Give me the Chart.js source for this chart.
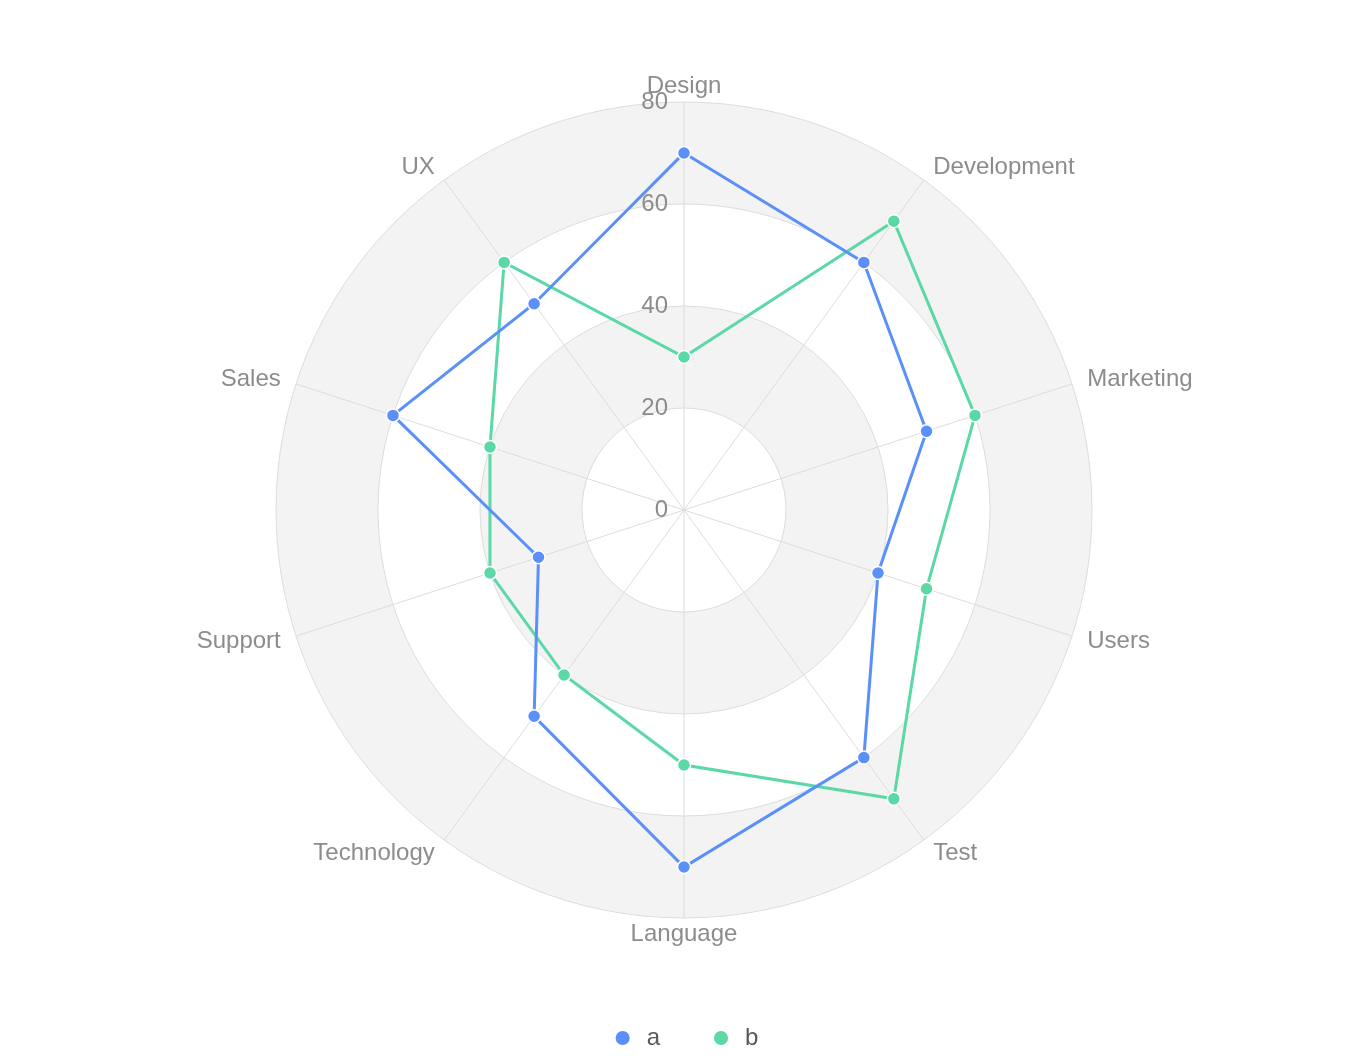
<!DOCTYPE html>
<html>
<head>
<meta charset="utf-8">
<script src="https://cdn.jsdelivr.net/npm/chart.js@4/dist/chart.umd.min.js"></script>
<style>
  html, body { margin: 0; padding: 0; background: #fff; }
  #wrap { width: 1369px; height: 1060px; }
</style>
</head>
<body>
<div id="wrap"><canvas id="myChart"></canvas></div>
<script>
var categories = ['Design', 'Development', 'Marketing', 'Users', 'Test', 'Language', 'Technology', 'Support', 'Sales', 'UX'];
var series_a = [70, 60, 50, 40, 60, 70, 50, 30, 60, 50];
var series_b = [30, 70, 60, 50, 70, 50, 40, 40, 40, 60];
var tick_values = [0, 20, 40, 60, 80];

var FONT = "Arial, 'Liberation Sans', Helvetica, sans-serif";
var label_color = '#8c8c8c';

// alternating grey bands under the grid
let bandsPlugin = {
  id: 'bands',
  beforeDraw: function(chart) {
    let r = chart.scales.r;
    let ctx = chart.ctx;
    ctx.save();
    for (var i = 0; i < tick_values.length - 1; i++) {
      if (i % 2 == 0) continue;
      let inner = r.getDistanceFromCenterForValue(tick_values[i]);
      let outer = r.getDistanceFromCenterForValue(tick_values[i + 1]);
      ctx.beginPath();
      ctx.arc(r.xCenter, r.yCenter, outer, 0, Math.PI * 2);
      ctx.arc(r.xCenter, r.yCenter, inner, 0, Math.PI * 2, true);
      ctx.fillStyle = '#f3f3f3';
      ctx.fill();
    }
    ctx.restore();
  }
};

// tick numbers and category names
let labelsPlugin = {
  id: 'radarLabels',
  beforeDatasetsDraw: function(chart) {
    let r = chart.scales.r;
    let ctx = chart.ctx;
    ctx.save();
    ctx.font = '24px ' + FONT;
    ctx.fillStyle = label_color;
    ctx.textBaseline = 'middle';

    ctx.textAlign = 'right';
    for (var i = 0; i < tick_values.length; i++) {
      let d = r.getDistanceFromCenterForValue(tick_values[i]);
      ctx.fillText(String(tick_values[i]), r.xCenter - 16, r.yCenter - d);
    }

    let outer = r.getDistanceFromCenterForValue(tick_values[tick_values.length - 1]);
    for (var j = 0; j < categories.length; j++) {
      let p = r.getPointPosition(j, outer + 16);
      let dx = p.x - r.xCenter;
      if (Math.abs(dx) < 1) {
        ctx.textAlign = 'center';
      } else if (dx > 0) {
        ctx.textAlign = 'left';
      } else {
        ctx.textAlign = 'right';
      }
      ctx.fillText(categories[j], p.x, p.y);
    }
    ctx.restore();
  }
};

const config = {
  type: 'radar',
  data: {
    labels: categories,
    datasets: [{
      label: 'a',
      data: series_a,
      borderColor: '#5B8FF9',
      backgroundColor: '#5B8FF9',
      pointBackgroundColor: '#5B8FF9',
      pointBorderColor: '#ffffff',
      pointBorderWidth: 1.5,
      pointRadius: 6.5,
      borderWidth: 3,
      fill: false,
    }, {
      label: 'b',
      data: series_b,
      borderColor: '#5AD8A6',
      backgroundColor: '#5AD8A6',
      pointBackgroundColor: '#5AD8A6',
      pointBorderColor: '#ffffff',
      pointBorderWidth: 1.5,
      pointRadius: 6.5,
      borderWidth: 3,
      fill: false,
    }]
  },
  options: {
    responsive: true,
    maintainAspectRatio: false,
    animation: false,
    layout: {
      padding: { top: 102, bottom: 0, left: 0, right: 0 }
    },
    plugins: {
      legend: {
        position: 'bottom',
        title: {
          display: true,
          text: '',
          font: { size: 10 },
          padding: { top: 47, bottom: 0 }
        },
        labels: {
          usePointStyle: true,
          pointStyle: 'circle',
          boxWidth: 24,
          boxHeight: 11,
          padding: 49,
          color: '#595959',
          font: { size: 24, family: FONT }
        }
      },
      tooltip: { enabled: false }
    },
    scales: {
      r: {
        min: 0,
        max: 80,
        ticks: {
          stepSize: 20,
          display: false
        },
        pointLabels: { display: false },
        grid: {
          circular: true,
          color: '#dcdcdc',
          lineWidth: 1
        },
        angleLines: {
          color: '#dcdcdc',
          lineWidth: 1
        }
      }
    }
  },
  plugins: [bandsPlugin, labelsPlugin]
};

var myChart = new Chart(document.getElementById('myChart'), config);
</script>
</body>
</html>
